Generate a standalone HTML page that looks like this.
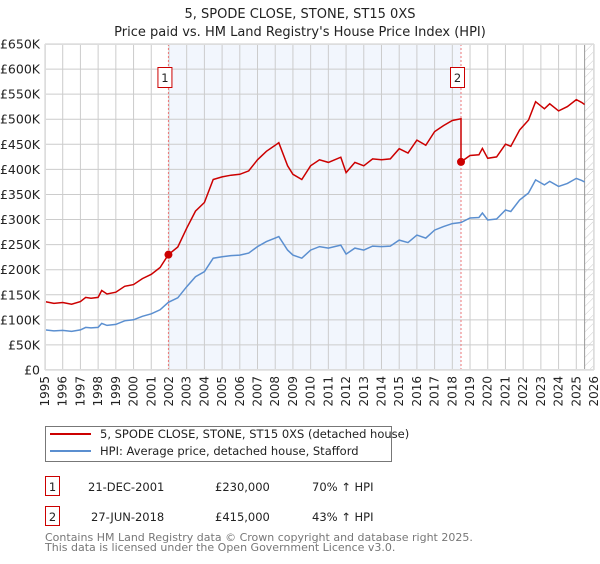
<!DOCTYPE html>
<html><head><meta charset="utf-8"><style>
body{margin:0;background:#fff;font-family:"DejaVu Sans","Liberation Sans",sans-serif;}
svg text{font-family:"DejaVu Sans","Liberation Sans",sans-serif;}
</style></head><body>
<svg id="c" width="600" height="560" viewBox="0 0 600 560" xmlns="http://www.w3.org/2000/svg">
<defs><pattern id="hatch" width="6" height="6" patternUnits="userSpaceOnUse" patternTransform="rotate(45)"><line x1="0" y1="0" x2="0" y2="6" stroke="#ccc" stroke-width="1"/></pattern></defs>
<text x="300" y="18" text-anchor="middle" font-size="13" fill="#222">5, SPODE CLOSE, STONE, ST15 0XS</text>
<text x="300" y="36" text-anchor="middle" font-size="13" fill="#222">Price paid vs. HM Land Registry's House Price Index (HPI)</text>
<g id="plot"></g>
<g>
<rect x="45.5" y="426.5" width="346" height="35" fill="#fff" stroke="#777"/>
<line x1="50" y1="434" x2="91" y2="434" stroke="#cc0000" stroke-width="2"/>
<text x="100" y="438" font-size="11.5" fill="#222">5, SPODE CLOSE, STONE, ST15 0XS (detached house)</text>
<line x1="50" y1="451" x2="91" y2="451" stroke="#5b8fd0" stroke-width="2"/>
<text x="100" y="455" font-size="11.5" fill="#222">HPI: Average price, detached house, Stafford</text>
</g>
<g font-size="11.5" fill="#222">
<rect x="45.5" y="476.5" width="14" height="19" fill="#fff" stroke="#cc0000"/>
<text x="52.5" y="491" text-anchor="middle">1</text>
<text x="88" y="491">21-DEC-2001</text>
<text x="215" y="491">£230,000</text>
<text x="312" y="491">70% ↑ HPI</text>
<rect x="45.5" y="506.5" width="14" height="19" fill="#fff" stroke="#cc0000"/>
<text x="52.5" y="521" text-anchor="middle">2</text>
<text x="91" y="521">27-JUN-2018</text>
<text x="215" y="521">£415,000</text>
<text x="312" y="521">43% ↑ HPI</text>
</g>
<text x="45" y="541" font-size="11" fill="#777">Contains HM Land Registry data © Crown copyright and database right 2025.</text>
<text x="45" y="551" font-size="11" fill="#777">This data is licensed under the Open Government Licence v3.0.</text>
</svg>
<script>
const hpiYears=[1995,1995.5,1996,1996.5,1997,1997.3,1997.6,1998,1998.2,1998.5,1999,1999.5,2000,2000.5,2001,2001.5,2001.97,2002.5,2003,2003.5,2004,2004.5,2005,2005.5,2006,2006.5,2007,2007.5,2008,2008.2,2008.7,2009,2009.5,2010,2010.5,2011,2011.7,2012,2012.5,2013,2013.5,2014,2014.5,2015,2015.5,2016,2016.5,2017,2017.5,2018,2018.49,2019,2019.5,2019.7,2020,2020.5,2021,2021.3,2021.8,2022.3,2022.7,2023.2,2023.5,2024,2024.5,2025,2025.3,2025.47];
const hpiValues=[80,78,79,77,80,85,84,85,93,89,91,98,100,107,112,120,135,144,166,186,196,223,226,228,229,233,246,256,263,266,239,229,223,239,246,243,249,231,243,239,247,246,247,259,254,269,263,279,286,292,294,303,304,313,299,301,319,316,339,353,379,369,376,366,372,382,378,375];
const saleDates=[2001.97,2018.49];
const salePrices=[230,415];
const saleLabels=["1","2"];
const yTicks=[0,50,100,150,200,250,300,350,400,450,500,550,600,650];
const xTicks=[1995,1996,1997,1998,1999,2000,2001,2002,2003,2004,2005,2006,2007,2008,2009,2010,2011,2012,2013,2014,2015,2016,2017,2018,2019,2020,2021,2022,2023,2024,2025,2026];
const X0=45,X1=594,Y0=370,Y1=44;
const xs=y=>X0+(y-1995)/31*(X1-X0);
const ys=v=>Y0-v/650*(Y0-Y1);
const NS="http://www.w3.org/2000/svg";
const g=document.getElementById('plot');
function mk(t,a){const e=document.createElementNS(NS,t);for(const k in a)e.setAttribute(k,a[k]);g.appendChild(e);return e;}
let e;
e=mk('rect',{x:xs(saleDates[0]),y:Y1,width:xs(saleDates[1])-xs(saleDates[0]),height:Y0-Y1,fill:'#eef3fc',opacity:0.75});


e=mk('rect',{x:xs(2025.47),y:Y1,width:X1-xs(2025.47),height:Y0-Y1,fill:'url(#hatch)'});


xTicks.forEach(t=>{e=mk('line',{x1:xs(t),x2:xs(t),y1:Y1,y2:Y0,stroke:'#cccccc'});


e=mk('text',{transform:`translate(${xs(t)+4},${Y0+6}) rotate(-90)`,'text-anchor':'end','font-size':12,fill:'#222'});e.textContent=t;

});
yTicks.forEach(t=>{e=mk('line',{x1:X0,x2:X1,y1:ys(t),y2:ys(t),stroke:'#cccccc'});


e=mk('text',{x:40,y:ys(t)+4.5,'text-anchor':'end','font-size':12.5,fill:'#222'});e.textContent=t===0?'£0':'£'+t+'K';

});
e=mk('line',{x1:xs(2025.47),x2:xs(2025.47),y1:Y1,y2:Y0,stroke:'#999'});


saleDates.forEach((d,i)=>{e=mk('line',{x1:xs(d),x2:xs(d),y1:Y1,y2:Y0,stroke:'#ee7777','stroke-dasharray':'2,2'});

});
e=mk('path',{d:hpiYears.map((y,i)=>(i?'L':'M')+xs(y).toFixed(1)+','+ys(hpiValues[i]).toFixed(1)).join(''),fill:'none',stroke:'#5b8fd0','stroke-width':1.5});


const hpiAt=d=>{for(let i=1;i<hpiYears.length;i++)if(hpiYears[i]>=d){const f=(d-hpiYears[i-1])/(hpiYears[i]-hpiYears[i-1]);return hpiValues[i-1]+f*(hpiValues[i]-hpiValues[i-1]);}return hpiValues[hpiValues.length-1];};
const r1=salePrices[0]/hpiAt(saleDates[0]),r2=salePrices[1]/hpiAt(saleDates[1]);
let pts=[];
hpiYears.forEach((y,i)=>{if(y<saleDates[1])pts.push([y,hpiValues[i]*r1]);});
pts.push([saleDates[1],hpiAt(saleDates[1])*r1]);
pts.push([saleDates[1],salePrices[1]]);
hpiYears.forEach((y,i)=>{if(y>saleDates[1])pts.push([y,hpiValues[i]*r2]);});
e=mk('path',{d:pts.map((p,i)=>(i?'L':'M')+xs(p[0]).toFixed(1)+','+ys(p[1]).toFixed(1)).join(''),fill:'none',stroke:'#cc0000','stroke-width':1.5});


saleDates.forEach((d,i)=>{e=mk('circle',{cx:xs(d),cy:ys(salePrices[i]),r:4,fill:'#cc0000'});


e=mk('rect',{x:xs(d)-10.5,y:67.5,width:14,height:20,fill:'#fff',stroke:'#cc0000'});


e=mk('text',{x:xs(d)-3.5,y:82,'text-anchor':'middle','font-size':11.5,fill:'#222'});e.textContent=saleLabels[i];

});
e=mk('rect',{x:X0+0.5,y:Y1+0.5,width:X1-X0-1,height:Y0-Y1-1,fill:'none',stroke:'#ddd'});


</script>
</body></html>
